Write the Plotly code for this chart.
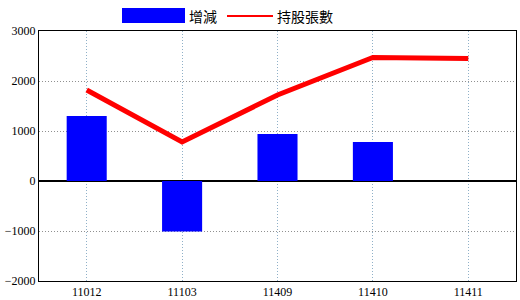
import plotly.graph_objects as go

categories = ["11012", "11103", "11409", "11410", "11411"]
change = [1300, -1010, 940, 780, None]
holdings = [1820, 780, 1720, 2470, 2450]
y_ticks = [-2000, -1000, 0, 1000, 2000, 3000]

fig = go.Figure()
fig.add_trace(go.Bar(x=categories, y=change, name="增減", marker_color="#0000ff",
                     marker_line_width=0, width=0.42))
fig.add_trace(go.Scatter(x=categories, y=holdings, name="持股張數", mode="lines",
                         line=dict(color="#ff0000", width=5)))

T, B, L, R = 31, 19, 39, 4
PH = 300 - T - B
PW = 520 - L - R

fig.update_layout(
    width=520, height=300,
    margin=dict(l=L, r=R, t=T, b=B),
    plot_bgcolor="white", paper_bgcolor="white",
    showlegend=False,
    font=dict(family="Liberation Serif", size=12, color="black"),
)
fig.update_xaxes(type="category", showgrid=True, gridcolor="#8fb0c8", griddash="1px,2px",
                 gridwidth=1, showline=True, linecolor="black", linewidth=1, mirror=True,
                 ticks="", tickfont=dict(size=12), automargin=False)
fig.update_yaxes(range=[-2000, 3000], tickvals=y_ticks, showgrid=True, gridcolor="#909090",
                 griddash="1px,2px", gridwidth=1, zeroline=True, zerolinecolor="black",
                 zerolinewidth=1.5, showline=True, linecolor="black", linewidth=1,
                 mirror=True, ticks="", tickfont=dict(size=12), automargin=False)

def px(x):
    return (x - L) / PW

def py(y):
    return (300 - B - y) / PH

# legend drawn manually
fig.add_shape(type="rect", xref="paper", yref="paper", x0=px(122), x1=px(185),
              y0=py(23), y1=py(8), fillcolor="#0000ff", line_width=0)
fig.add_annotation(xref="paper", yref="paper", x=px(187), y=py(16),
                   text="增減", showarrow=False, xanchor="left", yanchor="middle",
                   font=dict(family="Noto Sans CJK TC", size=14, color="black"))
fig.add_shape(type="line", xref="paper", yref="paper", x0=px(227), x1=px(273),
              y0=py(16), y1=py(16), line=dict(color="#ff0000", width=2))
fig.add_annotation(xref="paper", yref="paper", x=px(275), y=py(16),
                   text="持股張數", showarrow=False, xanchor="left", yanchor="middle",
                   font=dict(family="Noto Sans CJK TC", size=14, color="black"))

fig.write_html("out.html")
